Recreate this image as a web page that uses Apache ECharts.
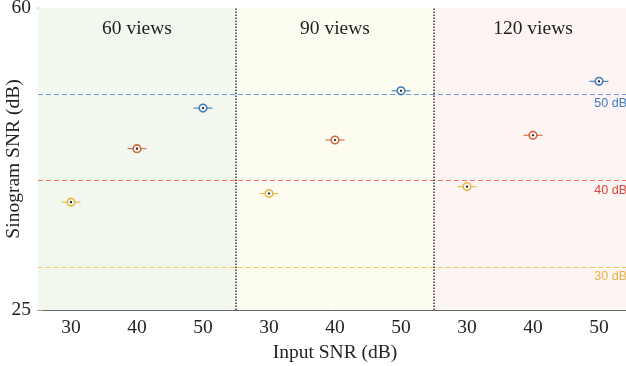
<!DOCTYPE html>
<html>
<head>
<meta charset="utf-8">
<script src="https://cdn.jsdelivr.net/npm/echarts@6/dist/echarts.min.js"></script>
<style>
  html, body { margin: 0; padding: 0; background: #fff; }
  #chart { width: 626px; height: 366px; }
</style>
</head>
<body>
<div id="chart"></div>
<script>
// x positions 1..9, three groups of input SNR
const xPos = [1, 2, 3, 4, 5, 6, 7, 8, 9]
const xLabels = ['30', '40', '50', '30', '40', '50', '30', '40', '50']
const views = ['60 views', '90 views', '120 views']
const groupEdges = [[0.5, 3.5], [3.5, 6.5], [6.5, 9.5]]
const groupColors = ['#f2f8ee', '#fdfcf1', '#fcf5f3']

// sinogram SNR per views group, one array per input SNR
const pos30 = [1, 4, 7]
const pos40 = [2, 5, 8]
const pos50 = [3, 6, 9]
const snr30 = [37.5, 38.5, 39.3]
const snr40 = [43.7, 44.7, 45.25]
const snr50 = [48.4, 50.4, 51.5]

const refLevels = [50, 40, 30]
const refLabels = ['50 dB', '40 dB', '30 dB']
const refLineColors = ['#6a9ed8', '#ee6e62', '#f2c95e']
const refTextColors = ['#3f7cc2', '#d9443a', '#ebb23f']
const markerColors = ['#e9b745', '#d5673f', '#3f7cc2'] // 30, 40, 50

const serif = 'Liberation Serif'
const fs = 19.5

const myChart = echarts.init(document.getElementById('chart'))

const renderItem = function (params, api) {
    const p = api.coord([api.value(0), api.value(1)])
    const color = api.visual('color')
    const r = 3.8
    return {
        type: 'group',
        children: [
            { type: 'line', shape: { x1: p[0] - 9.5, y1: p[1], x2: p[0] - r, y2: p[1] }, style: { stroke: color, lineWidth: 1.1 } },
            { type: 'line', shape: { x1: p[0] + r, y1: p[1], x2: p[0] + 9.5, y2: p[1] }, style: { stroke: color, lineWidth: 1.1 } },
            { type: 'circle', shape: { cx: p[0], cy: p[1], r: r }, style: { fill: 'none', stroke: color, lineWidth: 1.6 } },
            { type: 'circle', shape: { cx: p[0], cy: p[1], r: 1.1 }, style: { fill: '#111' } }
        ]
    }
}

const pairs = (xs, ys) => xs.map((x, i) => [x, ys[i]])

const axisLineStyle = { color: '#666', width: 1 }
const tickStyle = { color: '#999', width: 1 }

const option = {
    animation: false,
    grid: { left: 38, top: 8, width: 594, height: 302, outerBoundsMode: 'none', containLabel: false },
    xAxis: [
        {
            type: 'value', min: 0.5, max: 9.5, position: 'bottom',
            name: 'Input SNR (dB)', nameLocation: 'middle', nameGap: 33, nameMoveOverlap: false,
            nameTextStyle: { fontFamily: serif, fontSize: fs, color: '#222' },
            axisLine: { lineStyle: axisLineStyle },
            axisTick: { inside: true, length: 5, customValues: xPos, lineStyle: tickStyle },
            axisLabel: {
                customValues: xPos, margin: 8,
                fontFamily: serif, fontSize: fs, color: '#222',
                formatter: v => xLabels[Math.round(v) - 1]
            },
            splitLine: { show: false }
        },
        {
            type: 'value', min: 0.5, max: 9.5, position: 'top',
            axisLine: { lineStyle: axisLineStyle },
            axisTick: { inside: true, length: 5, customValues: xPos, lineStyle: tickStyle },
            axisLabel: { show: false },
            splitLine: { show: false }
        }
    ],
    yAxis: [
        {
            type: 'value', min: 25, max: 60, interval: 5, position: 'left',
            name: 'Sinogram SNR (dB)', nameLocation: 'middle', nameGap: 14, nameMoveOverlap: false,
            nameTextStyle: { fontFamily: serif, fontSize: fs, color: '#222' },
            axisLine: { show: true, lineStyle: axisLineStyle },
            axisTick: { show: true, inside: true, length: 5, lineStyle: tickStyle },
            axisLabel: {
                margin: 7, fontFamily: serif, fontSize: fs, color: '#222',
                formatter: v => (v === 25 || v === 60) ? String(v) : ''
            },
            splitLine: { show: false }
        },
        {
            type: 'value', min: 25, max: 60, interval: 5, position: 'right',
            axisLine: { show: true, lineStyle: axisLineStyle },
            axisTick: { show: true, inside: true, length: 5, lineStyle: tickStyle },
            axisLabel: { show: false },
            splitLine: { show: false }
        }
    ],
    series: [
        {
            type: 'custom', name: '30', renderItem: renderItem,
            itemStyle: { color: markerColors[0] },
            data: pairs(pos30, snr30), z: 5,
            markArea: {
                silent: true,
                label: {
                    position: 'insideTop', distance: 11,
                    fontFamily: serif, fontSize: fs, color: '#222'
                },
                data: groupEdges.map((e, i) => [
                    { xAxis: e[0], name: views[i], itemStyle: { color: groupColors[i] } },
                    { xAxis: e[1] }
                ])
            },
            markLine: {
                silent: true, symbol: 'none',
                data: [
                    ...refLevels.map((lv, i) => ({
                        yAxis: lv,
                        lineStyle: { color: refLineColors[i], type: [5, 3], width: 1, opacity: 1 },
                        label: {
                            show: true, formatter: refLabels[i], position: 'insideEndBottom',
                            distance: [5, 3],
                            fontFamily: 'Liberation Sans', fontSize: 12.5, color: refTextColors[i]
                        }
                    })),
                    ...groupEdges.slice(1).map(e => ({
                        xAxis: e[0],
                        lineStyle: { color: '#333', type: [1.5, 1.5], width: 1.5 },
                        label: { show: false }
                    }))
                ]
            }
        },
        {
            type: 'custom', name: '40', renderItem: renderItem,
            itemStyle: { color: markerColors[1] },
            data: pairs(pos40, snr40), z: 5
        },
        {
            type: 'custom', name: '50', renderItem: renderItem,
            itemStyle: { color: markerColors[2] },
            data: pairs(pos50, snr50), z: 5
        }
    ]
}

myChart.setOption(option)
</script>
</body>
</html>
